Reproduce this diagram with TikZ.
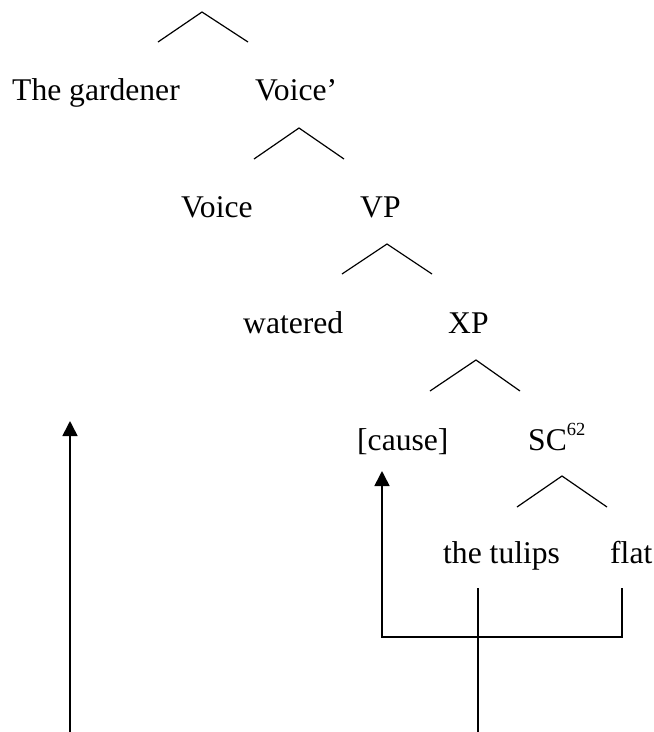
\documentclass[tikz,border=0pt]{standalone}
\usepackage{fontspec}
\setmainfont{Liberation Serif}
\usetikzlibrary{arrows.meta}
\begin{document}
\begin{tikzpicture}[x=1pt,y=-1pt,
  lbl/.style={anchor=base west,inner sep=0pt,font=\fontsize{31.6}{38}\selectfont},
  branch/.style={line width=1.2pt},
  mover/.style={line width=1.6pt},
  arr/.style={mover,-{Triangle[width=15pt,length=15pt]}}]
\useasboundingbox (0,0) rectangle (654,732);
% labels
\node[lbl] (gard) at (12,100) {The gardener};
\node[lbl] (voicebar) at (255,100) {Voice’};
\node[lbl] (voice) at (181,217) {Voice};
\node[lbl] (vp) at (360,217) {VP};
\node[lbl] (watered) at (243,333) {watered};
\node[lbl] (xp) at (448,333) {XP};
\node[lbl] (cause) at (357,450) {[cause]};
\node[lbl] (sc) at (528,450) {SC\raisebox{15pt}{\fontsize{18.5}{20}\selectfont 62}};
\node[lbl] (tulips) at (443,563) {the tulips};
\node[lbl] (flat) at (610,563) {flat};
% branches
\draw[branch] (158,42) -- (202,12) -- (248,42);
\draw[branch] (254,159) -- (299,128) -- (344,159);
\draw[branch] (342,274) -- (387,244) -- (432,274);
\draw[branch] (430,391) -- (476,360) -- (520,391);
\draw[branch] (517,507) -- (562,476) -- (607,507);
% movement arrows
\coordinate (gtip) at (70,421);
\coordinate (gfoot) at (70,733);
\coordinate (ctip) at (382,471);
\coordinate (ccorner) at (382,637);
\coordinate (fcorner) at (622,637);
\coordinate (ftop) at (622,588);
\coordinate (ttop) at (478,588);
\coordinate (tfoot) at (478,733);
\draw[arr] (gfoot) -- (gtip);
\draw[arr] (ftop) -- (fcorner) -- (ccorner) -- (ctip);
\draw[mover] (ttop) -- (tfoot);
\end{tikzpicture}
\end{document}
